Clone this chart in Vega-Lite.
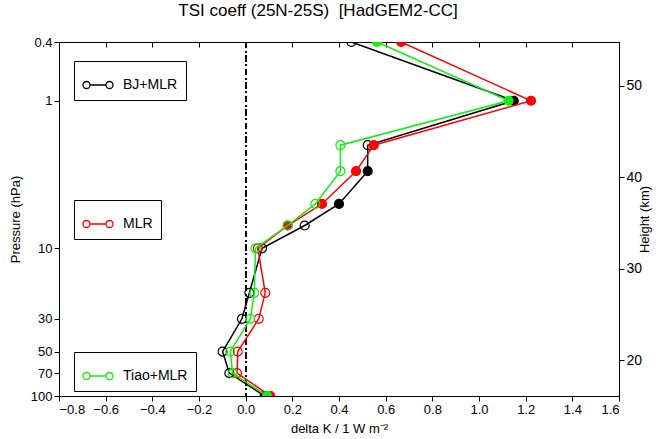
{
  "$schema": "https://vega.github.io/schema/vega-lite/v6.json",
  "autosize": {"type": "none"},
  "padding": {"left": 59, "top": 42, "right": 49, "bottom": 43},
  "width": 560,
  "height": 354,
  "title": {"text": "TSI coeff (25N-25S) \u00a0[HadGEM2-CC]", "fontSize": 17, "fontWeight": "normal", "anchor": "middle", "frame": "group", "dx": -21, "offset": 16, "color": "black"},
  "config": {
    "font": "Liberation Sans",
    "view": {"stroke": "black", "strokeWidth": 1},
    "axis": {"grid": false, "labelFontSize": 13, "titleFontSize": 13, "titleFontWeight": "normal", "labelColor": "black", "titleColor": "black", "tickColor": "black", "domainColor": "black", "tickSize": 5},
    "legend": {"strokeColor": "black", "fillColor": "white", "padding": 8, "labelFontSize": 14, "labelColor": "black", "labelOffset": 9}
  },
  "data": {"values": [
    {"series": "BJ+MLR", "p": 0.4, "dk": 0.453, "sig": false},
    {"series": "BJ+MLR", "p": 1, "dk": 1.149, "sig": true},
    {"series": "BJ+MLR", "p": 2, "dk": 0.523, "sig": false},
    {"series": "BJ+MLR", "p": 3, "dk": 0.523, "sig": true},
    {"series": "BJ+MLR", "p": 5, "dk": 0.400, "sig": true},
    {"series": "BJ+MLR", "p": 7, "dk": 0.253, "sig": false},
    {"series": "BJ+MLR", "p": 10, "dk": 0.070, "sig": false},
    {"series": "BJ+MLR", "p": 20, "dk": 0.016, "sig": false},
    {"series": "BJ+MLR", "p": 30, "dk": -0.016, "sig": false},
    {"series": "BJ+MLR", "p": 50, "dk": -0.099, "sig": false},
    {"series": "BJ+MLR", "p": 70, "dk": -0.070, "sig": false},
    {"series": "BJ+MLR", "p": 100, "dk": 0.081, "sig": true},
    {"series": "MLR", "p": 0.4, "dk": 0.666, "sig": true},
    {"series": "MLR", "p": 1, "dk": 1.223, "sig": true},
    {"series": "MLR", "p": 2, "dk": 0.549, "sig": true},
    {"series": "MLR", "p": 3, "dk": 0.473, "sig": true},
    {"series": "MLR", "p": 5, "dk": 0.327, "sig": true},
    {"series": "MLR", "p": 7, "dk": 0.180, "sig": true},
    {"series": "MLR", "p": 10, "dk": 0.052, "sig": false},
    {"series": "MLR", "p": 20, "dk": 0.084, "sig": false},
    {"series": "MLR", "p": 30, "dk": 0.056, "sig": false},
    {"series": "MLR", "p": 50, "dk": -0.034, "sig": false},
    {"series": "MLR", "p": 70, "dk": -0.037, "sig": false},
    {"series": "MLR", "p": 100, "dk": 0.106, "sig": true},
    {"series": "Tiao+MLR", "p": 0.4, "dk": 0.563, "sig": true},
    {"series": "Tiao+MLR", "p": 1, "dk": 1.127, "sig": true},
    {"series": "Tiao+MLR", "p": 2, "dk": 0.406, "sig": false},
    {"series": "Tiao+MLR", "p": 3, "dk": 0.406, "sig": false},
    {"series": "Tiao+MLR", "p": 5, "dk": 0.299, "sig": false},
    {"series": "Tiao+MLR", "p": 7, "dk": 0.180, "sig": false},
    {"series": "Tiao+MLR", "p": 10, "dk": 0.042, "sig": false},
    {"series": "Tiao+MLR", "p": 20, "dk": 0.037, "sig": false},
    {"series": "Tiao+MLR", "p": 30, "dk": 0.020, "sig": false},
    {"series": "Tiao+MLR", "p": 50, "dk": -0.066, "sig": false},
    {"series": "Tiao+MLR", "p": 70, "dk": -0.056, "sig": false},
    {"series": "Tiao+MLR", "p": 100, "dk": 0.092, "sig": true}
  ]},
  "layer": [
    {
      "encoding": {
        "x": {"field": "dk", "type": "quantitative", "scale": {"domain": [-0.8, 1.6], "nice": false, "zero": false},
              "axis": {"orient": "bottom", "values": [-0.8, -0.6, -0.4, -0.2, 0, 0.2, 0.4, 0.6, 0.8, 1.0, 1.2, 1.4, 1.6], "format": ".1f", "title": "delta K / 1 W m⁻²", "titlePadding": 6}},
        "y": {"field": "p", "type": "quantitative", "scale": {"type": "log", "domain": [0.4, 100], "nice": false, "reverse": true},
              "axis": {"orient": "left", "values": [0.4, 1, 10, 30, 50, 70, 100], "format": "~g", "title": "Pressure (hPa)", "titlePadding": 8}},
        "order": {"field": "p", "type": "quantitative"}
      },
      "layer": [
        {"mark": {"type": "rule", "color": "black", "strokeWidth": 0.9, "strokeDash": [6, 3, 1.5, 3]}, "encoding": {"x": {"datum": 0}, "y": null, "order": null}},
        {
          "transform": [{"filter": "datum.series === 'BJ+MLR'"}],
          "encoding": {"color": {"field": "series", "type": "nominal", "scale": {"domain": ["BJ+MLR"], "range": ["#000000"]},
            "legend": {"title": null, "orient": "none", "legendX": 15, "legendY": 19, "symbolType": "M-0.533,0L0.533,0M-0.533,0A0.233,0.233,0,1,1,-1,0A0.233,0.233,0,1,1,-0.533,0M1,0A0.233,0.233,0,1,1,0.533,0A0.233,0.233,0,1,1,1,0", "symbolSize": 900, "symbolStrokeWidth": 1.3, "symbolFillColor": "transparent"}}},
          "layer": [
            {"mark": {"type": "line", "strokeWidth": 1.5, "clip": true}},
            {"mark": {"type": "point", "shape": "circle", "size": 80, "strokeWidth": 1.2, "filled": false, "clip": true, "opacity": 1},
             "encoding": {"fill": {"condition": {"test": "datum.sig", "value": "#000000"}, "value": "transparent"}}}
          ]
        },
        {
          "transform": [{"filter": "datum.series === 'MLR'"}],
          "encoding": {"color": {"field": "series", "type": "nominal", "scale": {"domain": ["MLR"], "range": ["#ff0000"]},
            "legend": {"title": null, "orient": "none", "legendX": 15, "legendY": 158, "symbolType": "M-0.533,0L0.533,0M-0.533,0A0.233,0.233,0,1,1,-1,0A0.233,0.233,0,1,1,-0.533,0M1,0A0.233,0.233,0,1,1,0.533,0A0.233,0.233,0,1,1,1,0", "symbolSize": 900, "symbolStrokeWidth": 1.3, "symbolFillColor": "transparent"}}},
          "layer": [
            {"mark": {"type": "line", "strokeWidth": 1.5, "clip": true}},
            {"mark": {"type": "point", "shape": "circle", "size": 80, "strokeWidth": 1.2, "filled": false, "clip": true, "opacity": 1},
             "encoding": {"fill": {"condition": {"test": "datum.sig", "value": "#ff0000"}, "value": "transparent"}}}
          ]
        },
        {
          "transform": [{"filter": "datum.series === 'Tiao+MLR'"}],
          "encoding": {"color": {"field": "series", "type": "nominal", "scale": {"domain": ["Tiao+MLR"], "range": ["#11ee11"]},
            "legend": {"title": null, "orient": "none", "legendX": 15, "legendY": 310, "symbolType": "M-0.533,0L0.533,0M-0.533,0A0.233,0.233,0,1,1,-1,0A0.233,0.233,0,1,1,-0.533,0M1,0A0.233,0.233,0,1,1,0.533,0A0.233,0.233,0,1,1,1,0", "symbolSize": 900, "symbolStrokeWidth": 1.3, "symbolFillColor": "transparent"}}},
          "layer": [
            {"mark": {"type": "line", "strokeWidth": 1.5, "clip": true}},
            {"mark": {"type": "point", "shape": "circle", "size": 80, "strokeWidth": 1.2, "filled": false, "clip": true, "opacity": 1},
             "encoding": {"fill": {"condition": {"test": "datum.sig", "value": "#11ee11"}, "value": "transparent"}}}
          ]
        }
      ],
      "resolve": {"scale": {"color": "independent"}}
    },
    {
      "data": {"values": [{"km": 20}, {"km": 50}]},
      "mark": {"type": "point", "opacity": 0},
      "encoding": {
        "x": {"datum": 0, "type": "quantitative", "scale": {"domain": [-0.8, 1.6], "nice": false, "zero": false},
              "axis": {"orient": "top", "values": [-0.8, -0.6, -0.4, -0.2, 0, 0.2, 0.4, 0.6, 0.8, 1.0, 1.2, 1.4, 1.6], "labels": false, "domain": false, "tickSize": -5, "title": null}},
        "y": {"field": "km", "type": "quantitative", "scale": {"domain": [16.12, 54.77], "nice": false, "zero": false},
              "axis": {"orient": "right", "values": [20, 30, 40, 50], "title": "Height (km)", "titleAngle": 270, "titlePadding": 10, "labelFontSize": 14}}
      }
    }
  ],
  "resolve": {"scale": {"x": "independent", "y": "independent"}}
}
